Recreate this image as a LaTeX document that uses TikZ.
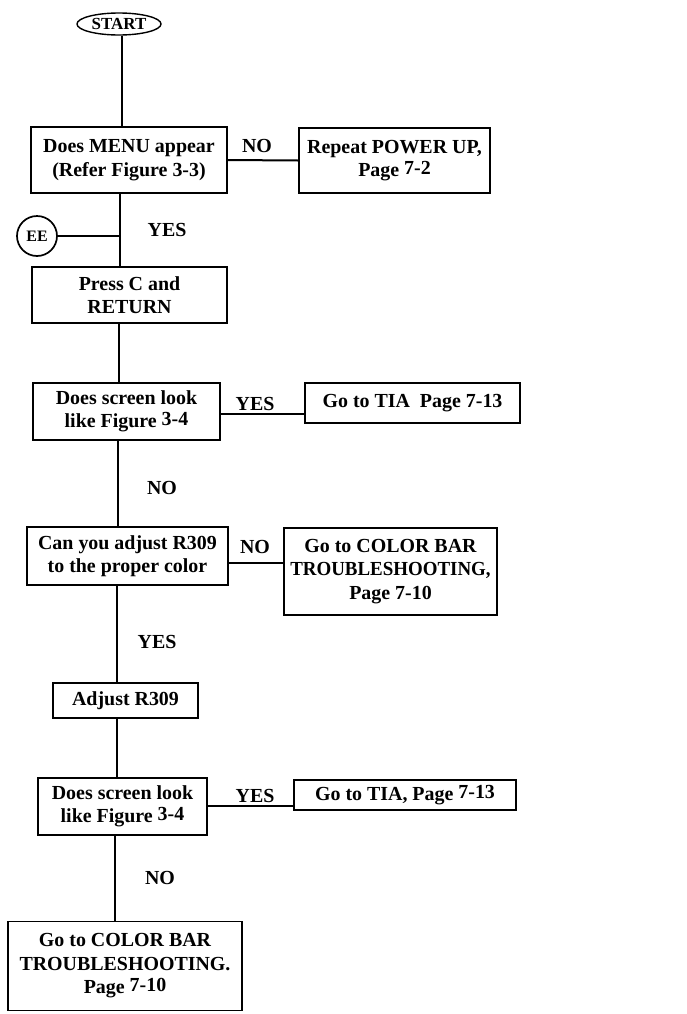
\documentclass[tikz,border=0pt]{standalone}
\usepackage{fontspec}
\usepackage{graphicx}
\setmainfont{Liberation Serif}
\usetikzlibrary{shapes.geometric}
\newcommand{\up}[1]{\raisebox{2bp}{#1}}
\newcommand{\squeeze}[1]{\scalebox{0.95}[1]{#1}}
\begin{document}
\begin{tikzpicture}[x=1bp,y=-1bp,
  every node/.style={font=\fontsize{20}{23.5}\selectfont\bfseries},
  box/.style={draw, line width=1.7bp, align=center, inner sep=0pt},
  conn/.style={line width=1.2bp},
  hconn/.style={line width=2bp},
  lbl/.style={inner sep=0pt}]
\useasboundingbox (0,0) rectangle (687,1014);
% trunk x positions
\coordinate (t1) at (122,0);
\coordinate (t2) at (120,0);
\coordinate (t3) at (119,0);
\coordinate (t4) at (118,0);
\coordinate (t5) at (117,0);
\coordinate (t6) at (115,0);
\coordinate (h2) at (0,414);
\coordinate (h3) at (0,563);
\coordinate (h4) at (0,806);

\node[draw, ellipse, line width=1.4bp, minimum width=84bp, minimum height=22bp, inner sep=0pt,
  font=\fontsize{17}{20}\selectfont\bfseries] (start) at (119,24) {START};

\node[box, minimum width=196bp, minimum height=66bp] (b1) at (129,160) {Does MENU appear\\(Refer Figure 3-3)};
\node[box, minimum width=191bp, minimum height=65bp] (b2) at (394.5,160.5) {Repeat POWER UP,\\Page \up{7-2}};
\node[draw, circle, line width=1.7bp, minimum size=40bp, inner sep=0pt,
  font=\fontsize{16}{18}\selectfont\bfseries] (ee) at (37,236) {EE};
\node[box, minimum width=195bp, minimum height=56bp] (b3) at (129.5,295) {Press C and\\RETURN};
\node[box, minimum width=187bp, minimum height=57bp] (b4) at (126.5,411.5) {Does screen look\\like Figure \up{3-4}};
\node[box, minimum width=215bp, minimum height=40bp] (b5) at (412.5,403) {Go to TIA \ Page 7-13};
\node[box, minimum width=201bp, minimum height=58bp] (b6) at (127.5,556) {Can you adjust R309\\to the proper color};
\node[box, minimum width=213bp, minimum height=87bp] (b7) at (390.5,571.5) {Go to COLOR BAR\\\squeeze{TROUBLESHOOTING,}\\Page 7-10};
\node[box, minimum width=145bp, minimum height=35bp] (b8) at (125.5,700.5) {Adjust R309};
\node[box, minimum width=169bp, minimum height=57bp] (b9) at (122.5,806.5) {Does screen look\\like Figure \up{3-4}};
\node[box, minimum width=222bp, minimum height=30bp] (b10) at (405,795) {Go to TIA, Page \up{7-13}};
\node[box, minimum width=234bp, minimum height=89bp] (b11) at (125,966) {Go to COLOR BAR\\TROUBLESHOOTING.\\Page \up{7-10}};

% connectors
\draw[conn] (t1 |- start.south) -- (t1 |- b1.north);
\draw[hconn] (b1.east) -- (b2.west);
\draw[conn] (t2 |- b1.south) -- (t2 |- b3.north);
\draw[hconn] (ee.east) -- (t2 |- ee.east);
\draw[conn] (t3 |- b3.south) -- (t3 |- b4.north);
\draw[hconn] (b4.east |- h2) -- (b5.west |- h2);
\draw[conn] (t4 |- b4.south) -- (t4 |- b6.north);
\draw[hconn] (b6.east |- h3) -- (b7.west |- h3);
\draw[conn] (t5 |- b6.south) -- (t5 |- b8.north);
\draw[conn] (t5 |- b8.south) -- (t5 |- b9.north);
\draw[hconn] (b9.east |- h4) -- (b10.west |- h4);
\draw[conn] (t6 |- b9.south) -- (t6 |- b11.north);

% labels
\node[lbl] (l1) at (257,146) {NO};
\node[lbl] (l2) at (167,230) {YES};
\node[lbl] (l3) at (255,404) {YES};
\node[lbl] (l4) at (162,488) {NO};
\node[lbl] (l5) at (255,547) {NO};
\node[lbl] (l6) at (157,642) {YES};
\node[lbl] (l7) at (255,796) {YES};
\node[lbl] (l8) at (160,878) {NO};
\end{tikzpicture}
\end{document}
